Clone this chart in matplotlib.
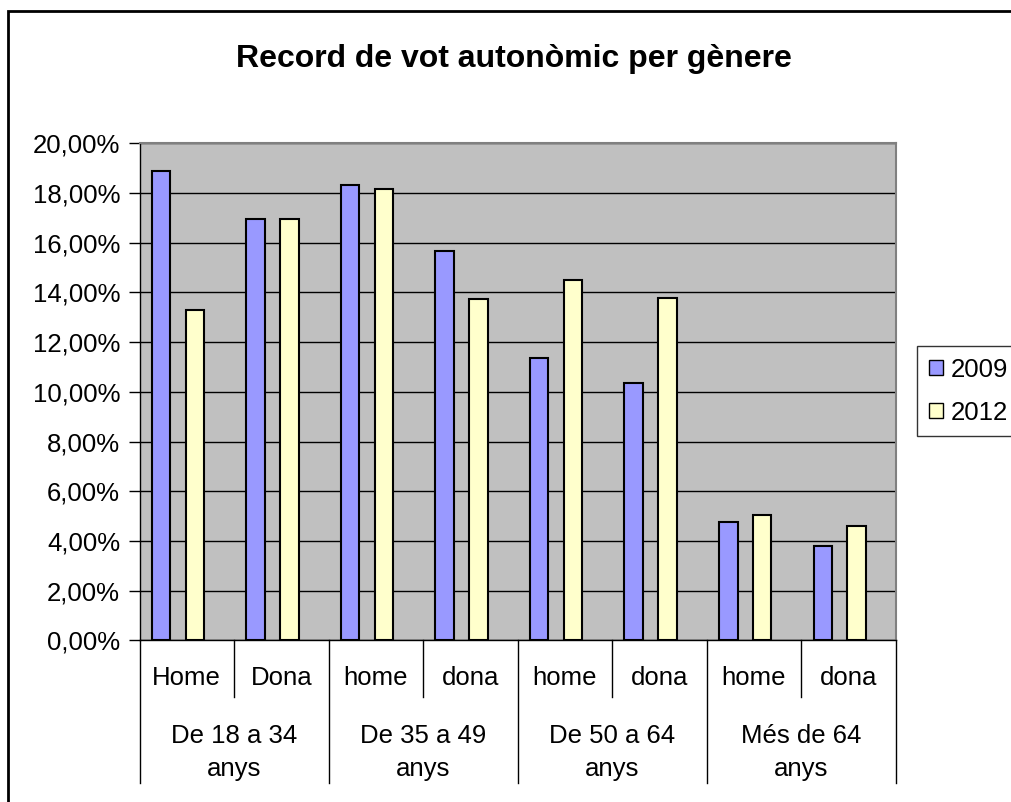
import matplotlib.pyplot as plt
import matplotlib.transforms as mtransforms
from matplotlib.patches import Rectangle

# data
groups = ['De 18 a 34\nanys', 'De 35 a 49\nanys', 'De 50 a 64\nanys', 'Més de 64\nanys']
genders = ['Home', 'Dona', 'home', 'dona', 'home', 'dona', 'home', 'dona']
years = ['2009', '2012']
vot_2009 = [18.90, 16.97, 18.33, 15.68, 11.36, 10.35, 4.75, 3.79]
vot_2012 = [13.28, 16.97, 18.17, 13.75, 14.49, 13.76, 5.05, 4.59]
colors = ['#9999FF', '#FFFFCC']

plt.rcParams['font.family'] = ['Liberation Sans', 'DejaVu Sans']
FS = 18.5

fig = plt.figure(figsize=(10.11, 8.02), dpi=100)
ax = fig.add_axes([0.138, 0.2016, 0.748, 0.6197])

# outer chart border (cut off at right and bottom, like the screenshot)
fig.patches.append(Rectangle((8 / 1011, -0.05), 1.2, 1 - 11 / 802 + 0.05,
                             transform=fig.transFigure, fill=False,
                             edgecolor='black', linewidth=2))

n = len(genders)
xs = list(range(n))
offsets = [-0.272, 0.086]
width = 0.196
for vals, off, col, lab in zip([vot_2009, vot_2012], offsets, colors, years):
    ax.bar([x + off for x in xs], [v / 100 for v in vals], width=width,
           color=col, edgecolor='black', linewidth=1.5, label=lab, zorder=3)

ax.set_facecolor('#C0C0C0')
ax.set_xlim(-0.5, n - 0.5)
ax.set_ylim(0, 0.20)
yt = [i * 0.02 for i in range(11)]
ax.set_yticks(yt)
ax.set_yticklabels([f'{t * 100:.2f}%'.replace('.', ',') for t in yt], fontsize=FS)
ax.tick_params(axis='y', length=8, width=1, color='black', pad=6)
ax.set_xticks([])
ax.grid(axis='y', color='black', linewidth=1, zorder=1)
for side in ['top', 'right']:
    ax.spines[side].set_color('#808080')
    ax.spines[side].set_linewidth(1.5)
ax.spines['left'].set_color('black')
ax.spines['left'].set_linewidth(1)
ax.spines['bottom'].set_color('black')
ax.spines['bottom'].set_linewidth(1)

# two-level category axis
trans = mtransforms.blended_transform_factory(ax.transData, ax.transAxes)
for i in range(n + 1):
    x = i - 0.5
    bottom = -0.287 if i % 2 == 0 else -0.114
    ax.plot([x, x], [0, bottom], color='black', linewidth=1, transform=trans,
            clip_on=False)
for i, g in enumerate(genders):
    ax.text(i, -0.075, g, ha='center', va='center', fontsize=FS, transform=trans)
for j, grp in enumerate(groups):
    ax.text(2 * j + 0.5, -0.226, grp, ha='center', va='center', fontsize=FS,
            linespacing=1.45, transform=trans)

fig.text(0.508, 1 - 59 / 802, 'Record de vot autonòmic per gènere', ha='center',
         va='center', fontsize=23, fontweight='bold')

leg = fig.legend(loc='upper left', bbox_to_anchor=(917 / 1011, 1 - 346 / 802),
                 fontsize=FS, frameon=True, fancybox=False, handlelength=0.55,
                 handleheight=0.55, handletextpad=0.3, labelspacing=0.75,
                 borderpad=0.45, borderaxespad=0)
leg.get_frame().set_edgecolor('black')
leg.get_frame().set_linewidth(1)
for h in leg.legend_handles:
    h.set_linewidth(1)

fig.savefig('out.png', dpi=100)
